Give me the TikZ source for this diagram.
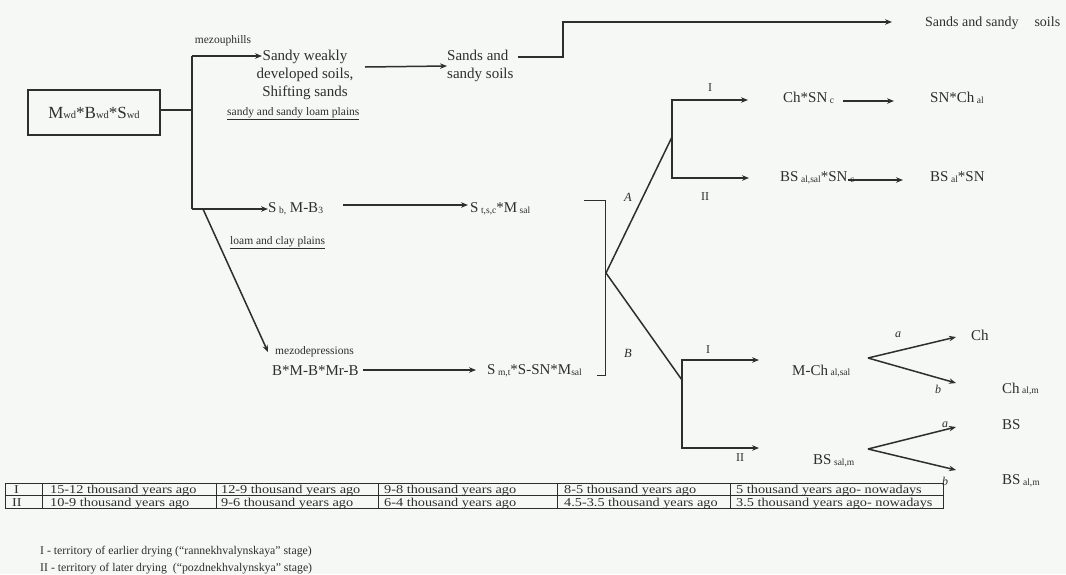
\documentclass[tikz,border=0pt]{standalone}
\usepackage{fontspec}
\setmainfont{Liberation Serif}
\newfontfamily\tabfont[FakeStretch=1.19]{Liberation Serif}
\usetikzlibrary{arrows.meta}
\definecolor{ink}{HTML}{2E2E2E}
\definecolor{paper}{HTML}{F6F8F5}
\newcommand{\sbs}[1]{\raisebox{-0.5pt}{\fontsize{9.5}{9.5}\selectfont #1}}
\tikzset{
  ln/.style={line width=1.5pt, draw=ink},
  thin/.style={line width=0.8pt, draw=ink},
  arr/.style={ln, -{Stealth[length=7pt,width=5.5pt]}},
  big/.style={inner sep=0pt, text=ink, font=\fontsize{15}{18}\selectfont},
  mid/.style={inner sep=0pt, anchor=west, text=ink, font=\fontsize{15}{16}\selectfont},
  sml/.style={inner sep=0pt, text=ink, font=\fontsize{11.5}{12}\selectfont},
  lbl/.style={inner sep=0pt, text=ink, font=\fontsize{12}{13}\selectfont},
  tab/.style={inner sep=0pt, anchor=base west, text=ink, font=\tabfont\fontsize{12}{12}\selectfont},
  leg/.style={inner sep=0pt, anchor=west, text=ink, font=\fontsize{11.8}{13}\selectfont},
}
\begin{document}
\begin{tikzpicture}[x=1pt,y=-1pt]
\fill[paper] (0,0) rectangle (1066,574);
\useasboundingbox (0,0) rectangle (1066,574);

% root box
\node[big, draw=ink, line width=1.3pt, minimum width=132pt, minimum height=45pt, font=\fontsize{17}{18}\selectfont] (box) at (94,112.5)
  {M{\fontsize{10.5}{10}\selectfont wd}*B{\fontsize{10.5}{10}\selectfont wd}*S{\fontsize{10.5}{10}\selectfont wd}};
\coordinate (j0) at (192,110);
\coordinate (jtop) at (192,56);
\coordinate (jmid) at (192,209);
\coordinate (jdiag) at (203,209);
\coordinate (tsandy) at (262,56);
\coordinate (tmezd) at (268,352);
\draw[ln] (box.east |- j0) -- (j0);
\draw[ln] (jtop) -- (jmid);

% upper branch
\node[sml] (mezu) at (223,41) {mezouphills};
\node[big, align=center] (sandy) at (305,75) {Sandy weakly\\developed soils,\\Shifting sands};
\node[sml, anchor=west] (sslp) at (227,114) {\underline{sandy and sandy loam plains}};
\draw[arr] (jtop) -- (tsandy);
\node[big, align=left, anchor=west] (sands1) at (447,66) {Sands and\\sandy soils};
\coordinate (a1s) at (365,67);
\draw[arr] (a1s) -- (sands1.west);
\coordinate (p1) at (518,57);
\coordinate (p2) at (563,57);
\coordinate (p3) at (563,22);
\coordinate (p4) at (892,22);
\node[lbl, anchor=west, font=\fontsize{14}{15}\selectfont] (sands2) at (925,23) {Sands and sandy\hspace{16pt}soils};
\draw[arr] (p1) -- (p2) -- (p3) -- (p4);

% middle branch
\node[big, anchor=west] (sb) at (268,209) {S\,\sbs{b,} M-B\sbs{3}};
\node[sml, anchor=west] (lcp) at (230,243) {\underline{loam and clay plains}};
\draw[arr] (jmid) -- (sb.west);
\coordinate (a2s) at (343,205);
\coordinate (a2e) at (468,205);
\draw[arr] (a2s) -- (a2e);
\node[big, anchor=west] (stsc) at (470,209) {S\,\sbs{t,s,c}*M\,\sbs{sal}};

% lower branch
\draw[arr] (jdiag) -- (tmezd);
\node[sml, anchor=west] (mezd) at (275,352) {mezodepressions};
\node[big, anchor=west] (bmb) at (272,371) {B*M-B*Mr-B};
\coordinate (a3s) at (363,370);
\coordinate (a3e) at (476,370);
\draw[arr] (a3s) -- (a3e);
\node[big, anchor=west] (smt) at (487,371) {S\,\sbs{m,t}*S-SN*M\sbs{sal}};

% bracket
\coordinate (bk1) at (584,200);
\coordinate (bk2) at (605,200);
\coordinate (bk3) at (605,375);
\coordinate (bk4) at (597,375);
\draw[thin] (bk1) -- (bk2) -- (bk3) -- (bk4);
\coordinate (apex) at (606,273);
\coordinate (ua) at (672,137);
\coordinate (lb) at (682,380);
\draw[ln] (apex) -- (ua);
\draw[ln] (apex) -- (lb);
\node[lbl, font=\itshape\fontsize{12.5}{13}\selectfont] (labA) at (628,197) {A};
\node[lbl, font=\itshape\fontsize{12.5}{13}\selectfont] (labB) at (628,353) {B};

% upper fork A
\coordinate (u1) at (672,100);
\coordinate (u2) at (672,178);
\coordinate (u1e) at (748,100);
\coordinate (u2e) at (749,178);
\draw[arr] (u2) -- (u1) -- (u1e);
\draw[arr] (u1) -- (u2) -- (u2e);
\node[lbl] (uI) at (710,88) {I};
\node[lbl] (uII) at (705,197) {II};
\node[mid] (chsn) at (783,98) {Ch*SN\,\sbs{c}};
\coordinate (a4s) at (843,101);
\coordinate (a4e) at (894,101);
\draw[arr] (a4s) -- (a4e);
\node[mid] (snch) at (930,98) {SN*Ch\,\sbs{al}};
\node[mid] (bsal) at (780,178) {BS\,\sbs{al,sal}*SN\,\sbs{c}};
\coordinate (a5s) at (848,180);
\coordinate (a5e) at (903,180);
\draw[arr] (a5s) -- (a5e);
\node[mid] (bsal2) at (930,177) {BS\,\sbs{al}*SN};

% lower fork B
\coordinate (l1) at (682,360);
\coordinate (l2) at (682,448);
\coordinate (l1e) at (759,360);
\coordinate (l2e) at (759,448);
\draw[arr] (l2) -- (l1) -- (l1e);
\draw[arr] (l1) -- (l2) -- (l2e);
\node[lbl] (lI) at (708,350) {I};
\node[lbl] (lII) at (740,458) {II};
\node[mid] (mch) at (792,371) {M-Ch\,\sbs{al,sal}};
\coordinate (f1) at (868,358);
\coordinate (f1a) at (956,337);
\coordinate (f1b) at (956,383);
\draw[arr] (f1) -- (f1a);
\draw[arr] (f1) -- (f1b);
\node[lbl, font=\itshape\fontsize{12}{12}\selectfont] (fa1) at (898,335) {a};
\node[lbl, font=\itshape\fontsize{12}{12}\selectfont] (fb1) at (938,389) {b};
\node[mid] (ch) at (971,335) {Ch};
\node[mid] (chalm) at (1002,389) {Ch\,\sbs{al,m}};
\node[mid] (bssal) at (813,461) {BS\,\sbs{sal,m}};
\coordinate (f2) at (868,449);
\coordinate (f2a) at (956,427);
\coordinate (f2b) at (956,470);
\draw[arr] (f2) -- (f2a);
\draw[arr] (f2) -- (f2b);
\node[lbl, font=\itshape\fontsize{12}{12}\selectfont] (fa2) at (945,425) {a};
\node[lbl, font=\itshape\fontsize{12}{12}\selectfont] (fb2) at (945,481) {b};
\node[mid] (bs) at (1002,425) {BS};
\node[mid] (bsalm) at (1002,481) {BS\,\sbs{al,m}};

% table
\draw[line width=0.9pt, draw=ink] (5,483) rectangle (943,508.5);
\draw[line width=0.7pt, draw=ink] (5,495.75) -- (943,495.75);
\foreach \cx in {42,216,378,557,730} {\draw[line width=0.7pt, draw=ink] (\cx,483) -- (\cx,508.5);}
\node[tab] (t10) at (14,493.5) {I};
\node[tab] (t11) at (50,493.5) {15-12 thousand years ago};
\node[tab] (t12) at (221,493.5) {12-9 thousand years ago};
\node[tab] (t13) at (384,493.5) {9-8 thousand years ago};
\node[tab] (t14) at (564,493.5) {8-5 thousand years ago};
\node[tab] (t15) at (736,493.5) {5 thousand years ago- nowadays};
\node[tab] (t20) at (12,506.3) {II};
\node[tab] (t21) at (50,506.3) {10-9 thousand years ago};
\node[tab] (t22) at (221,506.3) {9-6 thousand years ago};
\node[tab] (t23) at (384,506.3) {6-4 thousand years ago};
\node[tab] (t24) at (564,506.3) {4.5-3.5 thousand years ago};
\node[tab] (t25) at (736,506.3) {3.5 thousand years ago- nowadays};

% legend
\node[leg] (lg1) at (40,552) {I - territory of earlier drying (“rannekhvalynskaya” stage)};
\node[leg] (lg2) at (40,569) {II - territory of later drying\ \ (“pozdnekhvalynskya” stage)};
\end{tikzpicture}
\end{document}
